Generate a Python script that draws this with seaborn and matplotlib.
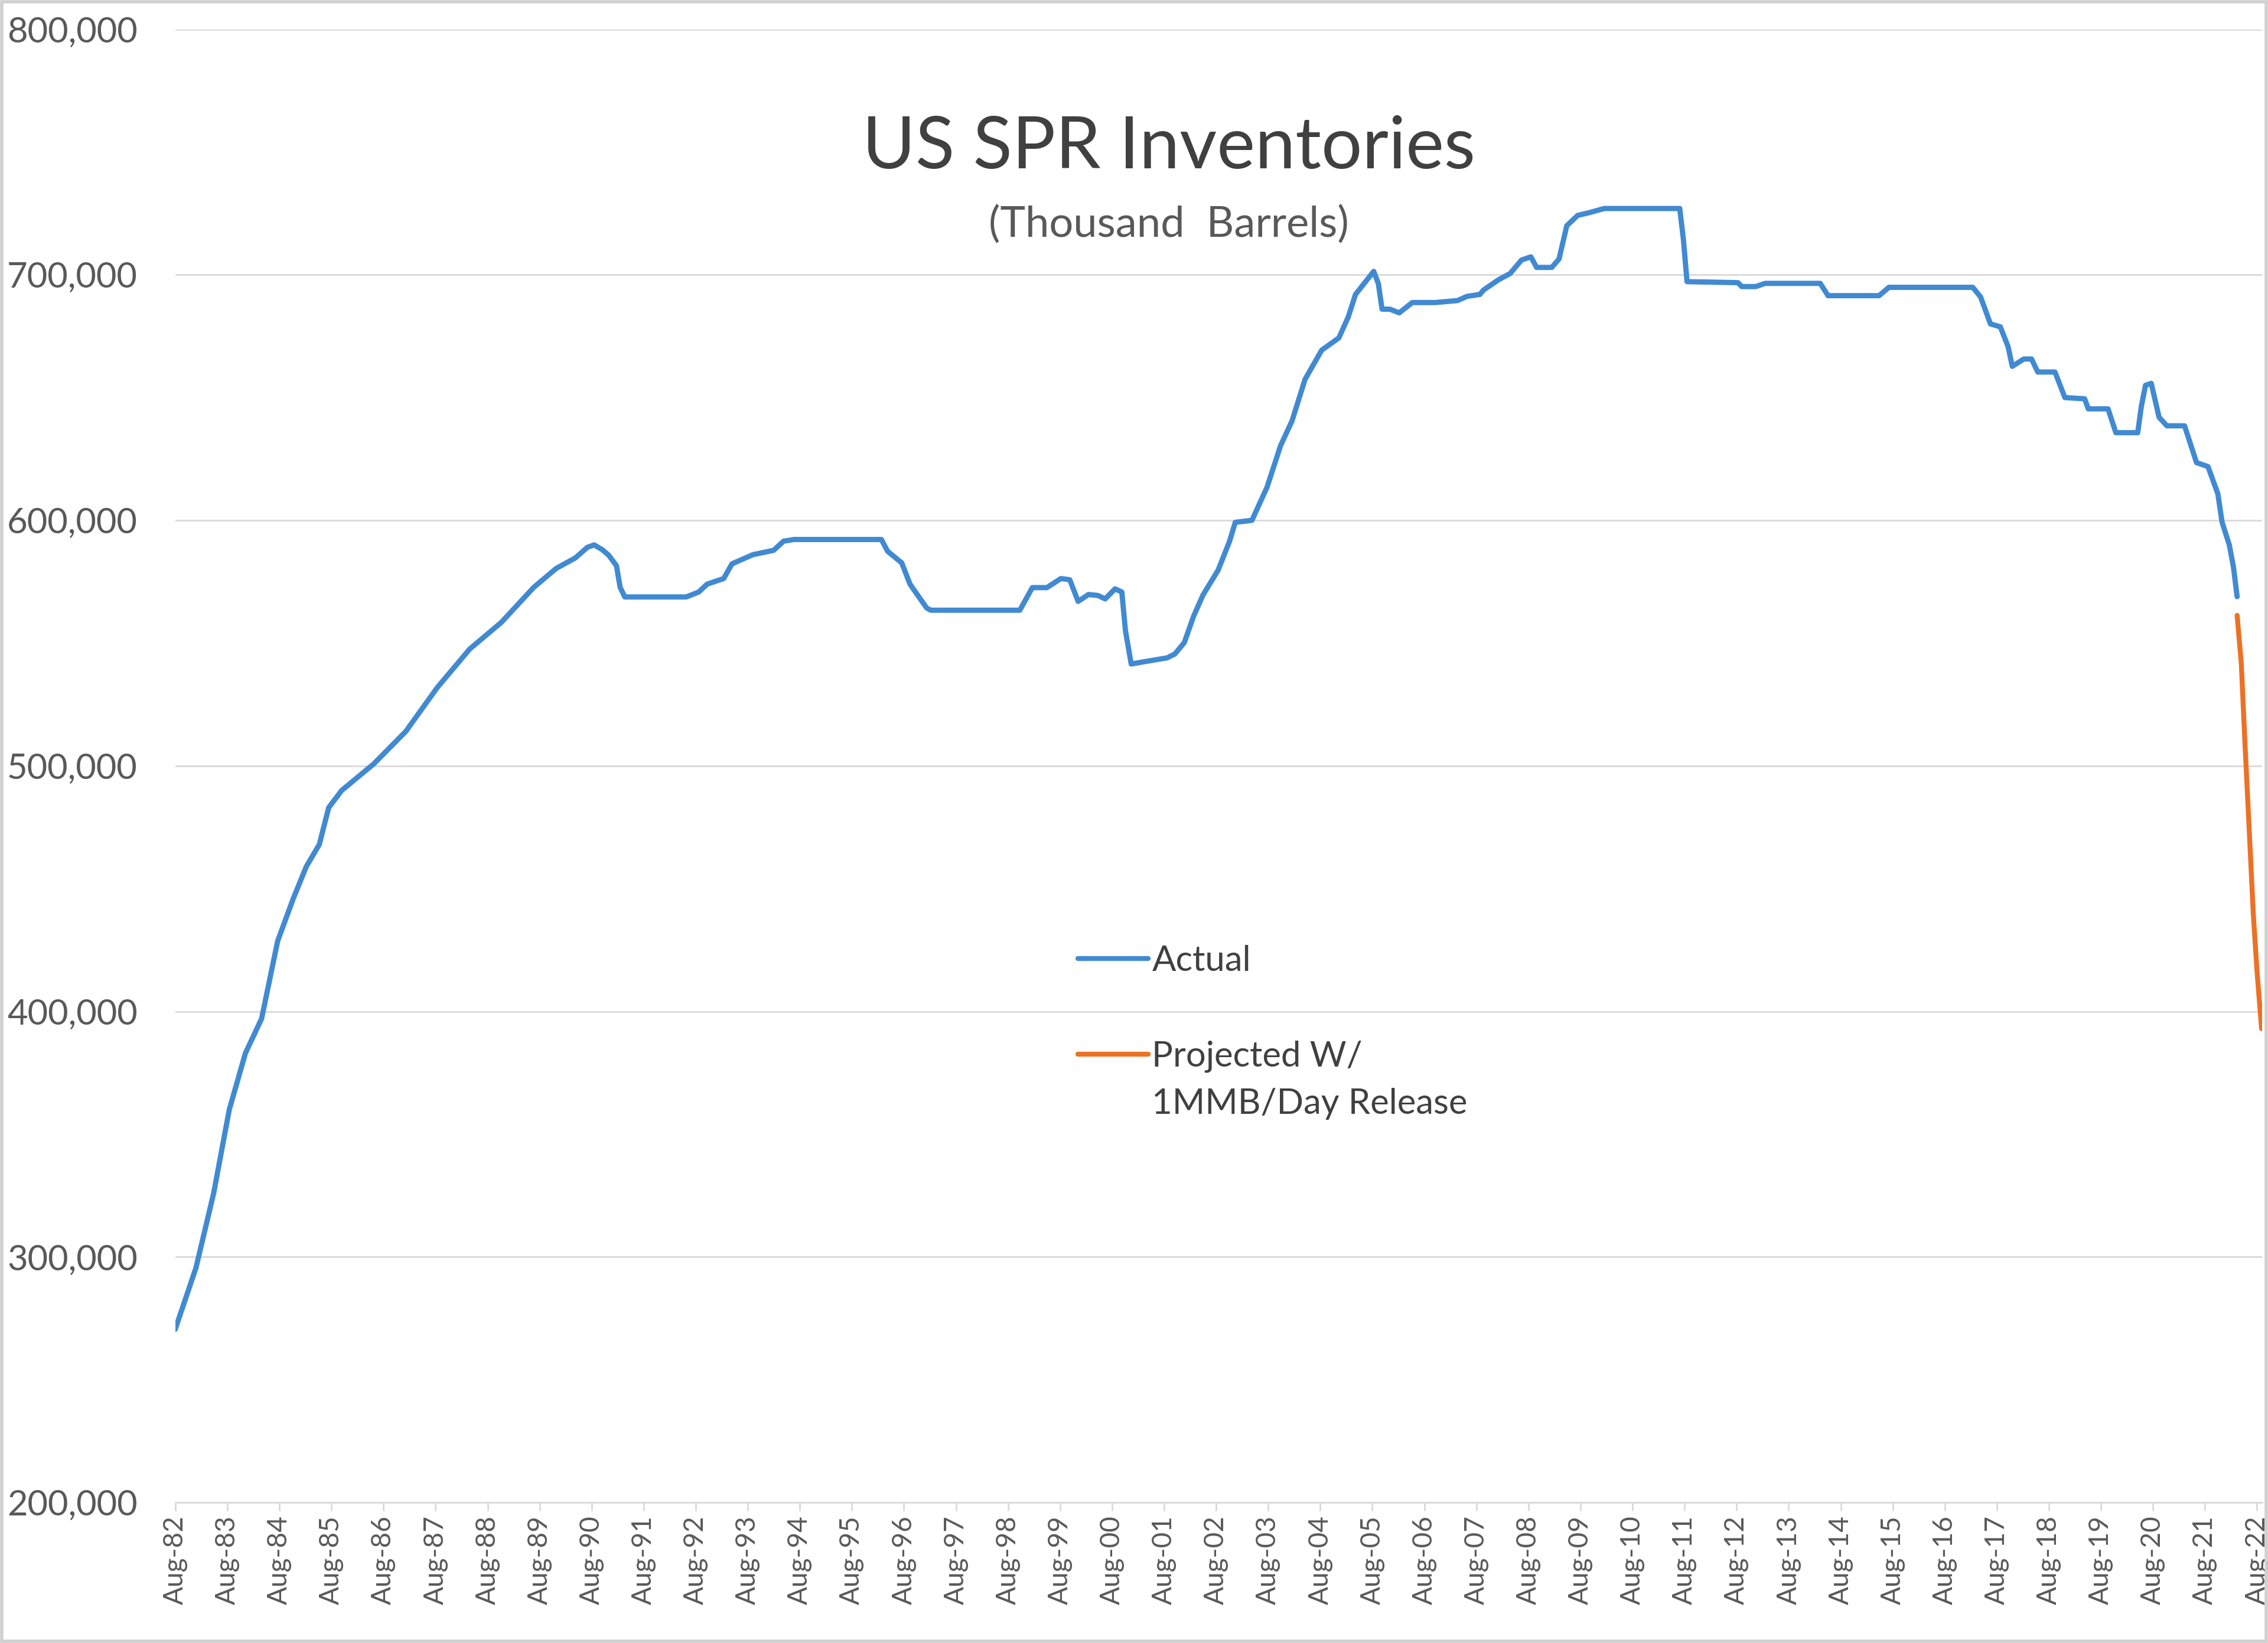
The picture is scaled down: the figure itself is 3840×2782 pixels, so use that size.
import matplotlib
matplotlib.use("Agg")
import matplotlib.pyplot as plt
import pandas as pd
import seaborn as sns
from matplotlib.ticker import FuncFormatter, FixedLocator
from matplotlib.patches import Rectangle
from matplotlib.transforms import IdentityTransform

# ---------------- data (thousand barrels) ----------------
actual_year = [
    1982.58, 1982.98, 1983.32, 1983.62, 1983.93, 1984.24, 1984.55, 1984.85,
    1985.10, 1985.35, 1985.53, 1985.78, 1986.39, 1987.01, 1987.62, 1988.24,
    1988.85, 1989.47, 1989.90, 1990.27, 1990.50, 1990.63, 1990.79, 1990.91,
    1991.06, 1991.13, 1991.22, 1992.40, 1992.64, 1992.80, 1993.12, 1993.28,
    1993.68, 1994.08, 1994.27, 1994.47, 1996.15, 1996.27, 1996.54, 1996.70,
    1997.02, 1997.10, 1998.81, 1998.93, 1999.05, 1999.33, 1999.60, 1999.77,
    1999.93, 2000.13, 2000.31, 2000.45, 2000.64, 2000.77, 2000.84, 2000.95,
    2001.14, 2001.64, 2001.79, 2001.97, 2002.15, 2002.33, 2002.62, 2002.84,
    2002.95, 2003.27, 2003.56, 2003.82, 2004.04, 2004.29, 2004.61, 2004.94,
    2005.12, 2005.26, 2005.61, 2005.70, 2005.77, 2005.92, 2006.10, 2006.35,
    2006.79, 2007.22, 2007.40, 2007.65, 2007.72, 2008.01, 2008.23, 2008.45,
    2008.63, 2008.74, 2009.03, 2009.17, 2009.32, 2009.53, 2009.75, 2010.04,
    2011.49, 2011.56, 2011.63, 2012.61, 2012.68, 2012.95, 2013.13, 2014.19,
    2014.34, 2015.32, 2015.51, 2017.12, 2017.27, 2017.46, 2017.65, 2017.80,
    2017.88, 2018.10, 2018.25, 2018.37, 2018.70, 2018.89, 2019.27, 2019.34,
    2019.72, 2019.87, 2020.29, 2020.36, 2020.44, 2020.55, 2020.70, 2020.85,
    2021.19, 2021.42, 2021.64, 2021.83, 2021.91, 2022.05, 2022.13, 2022.20,
]
actual_kbbl = [
    270500, 295600, 326000, 360000, 383000, 397000, 428700, 446000,
    459000, 468000, 483000, 490000, 500700, 514000, 532000, 547600,
    558500, 572700, 580400, 584700, 589000, 590000, 588000, 585800,
    581500, 572700, 568800, 568800, 570800, 574000, 576300, 582300,
    586000, 587800, 591500, 592200, 592200, 587400, 582700, 574000,
    564300, 563400, 563400, 568000, 572600, 572600, 576300, 575800,
    567000, 569800, 569400, 568000, 572100, 570800, 555000, 541500,
    542200, 544000, 545600, 550200, 561000, 569600, 579700, 591500,
    599200, 600000, 613500, 630400, 640500, 657400, 669300, 674300,
    682800, 692000, 701400, 696300, 686000, 686000, 684500, 688700,
    688700, 689500, 691200, 692000, 693800, 698000, 700500, 706000,
    707300, 703000, 703000, 706400, 720000, 724200, 725300, 727000,
    727000, 714500, 697200, 696800, 695200, 695200, 696500, 696500,
    691500, 691500, 694900, 694900, 691000, 680000, 678800, 670700,
    662700, 665700, 665700, 660400, 660400, 650000, 649500, 645400,
    645400, 635700, 635700, 646500, 655000, 655800, 642000, 638500,
    638500, 623500, 621900, 610800, 599300, 590000, 580900, 568900,
]
proj_year = [2022.20, 2022.28, 2022.35, 2022.43, 2022.51, 2022.58, 2022.67]
proj_kbbl = [561300, 541700, 509400, 474900, 440000, 417000, 393000]

tick_years = [1982.583 + i for i in range(41)]
tick_labels = [
    "Aug-82", "Aug-83", "Aug-84", "Aug-85", "Aug-86", "Aug-87", "Aug-88",
    "Aug-89", "Aug-90", "Aug-91", "Aug-92", "Aug-93", "Aug-94", "Aug-95",
    "Aug-96", "Aug-97", "Aug-98", "Aug-99", "Aug-00", "Aug-01", "Aug-02",
    "Aug-03", "Aug-04", "Aug-05", "Aug-06", "Aug-07", "Aug-08", "Aug-09",
    "Aug-10", "Aug-11", "Aug-12", "Aug-13", "Aug-14", "Aug-15", "Aug-16",
    "Aug-17", "Aug-18", "Aug-19", "Aug-20", "Aug-21", "Aug-22",
]
y_ticks = [200000, 300000, 400000, 500000, 600000, 700000, 800000]

series_names = ["Actual", "Projected W/"]
series_name_cont = "1MMB/Day Release"
series_colors = ["#418AD2", "#EC7125"]

# ---------------- style ----------------
sns.set_theme(style="white")
plt.rcParams["font.family"] = ["Lato", "DejaVu Sans"]

fig = plt.figure(figsize=(19.2, 13.91), dpi=200)
ax = fig.add_axes([0.0773, 0.0855, 0.9201, 0.8967])

df_actual = pd.DataFrame({"year": actual_year, "kbbl": actual_kbbl})
df_proj = pd.DataFrame({"year": proj_year, "kbbl": proj_kbbl})

sns.lineplot(data=df_actual, x="year", y="kbbl", ax=ax, color=series_colors[0],
             linewidth=3.2, estimator=None, sort=False, label=series_names[0])
sns.lineplot(data=df_proj, x="year", y="kbbl", ax=ax, color=series_colors[1],
             linewidth=3.0, estimator=None, sort=False, label=series_names[1])

ax.set_xlim(1982.583, 2022.68)
ax.set_ylim(200000, 800000)
ax.set_xlabel("")
ax.set_ylabel("")

ax.yaxis.set_major_locator(FixedLocator(y_ticks))
ax.yaxis.set_major_formatter(FuncFormatter(lambda v, p: f"{int(v):,}"))
ax.xaxis.set_major_locator(FixedLocator(tick_years))
ax.set_xticklabels(tick_labels, rotation=90)

ax.grid(axis="y", color="#D9D9D9", linewidth=1.0)
ax.grid(axis="x", visible=False)
for side in ["left", "right", "top"]:
    ax.spines[side].set_visible(False)
ax.spines["bottom"].set_color("#D9D9D9")
ax.spines["bottom"].set_linewidth(1.0)

ax.tick_params(axis="y", length=0, pad=23, labelsize=21.5, labelcolor="#595959")
ax.tick_params(axis="x", direction="out", length=5, width=1.0, color="#D9D9D9",
               pad=3, labelsize=16.5, labelcolor="#595959", bottom=True)

# title
fig.text(1979 / 3840, 1 - 250 / 2782, "US SPR Inventories", ha="center", va="center",
         fontsize=44, color="#404040")
fig.text(1979 / 3840, 1 - 380 / 2782, "(Thousand  Barrels)", ha="center", va="center",
         fontsize=26, color="#595959")

# legend
leg = ax.legend(loc="upper left", bbox_to_anchor=(1825 / 3840, 1 - 1600 / 2782),
                bbox_transform=fig.transFigure, frameon=False, fontsize=21.5,
                handlelength=2.0, handletextpad=0.1, labelspacing=1.8,
                borderpad=0, borderaxespad=0)
for t in leg.get_texts():
    t.set_color("#404040")
for h in leg.legend_handles:
    h.set_linewidth(3.0)

fig.canvas.draw()
renderer = fig.canvas.get_renderer()
bb = leg.get_texts()[1].get_window_extent(renderer)
fig.text(bb.x0, (bb.y0 + bb.y1) / 2 - 80, series_name_cont, transform=IdentityTransform(),
         ha="left", va="center", fontsize=21.5, color="#404040")

# outer border
fig.patches.append(Rectangle((0.0008, 0.0012), 0.9984, 0.9976, transform=fig.transFigure,
                             fill=False, edgecolor="#D0D0D0", linewidth=2.0))

fig.savefig("out.png", dpi=200, facecolor="white")
